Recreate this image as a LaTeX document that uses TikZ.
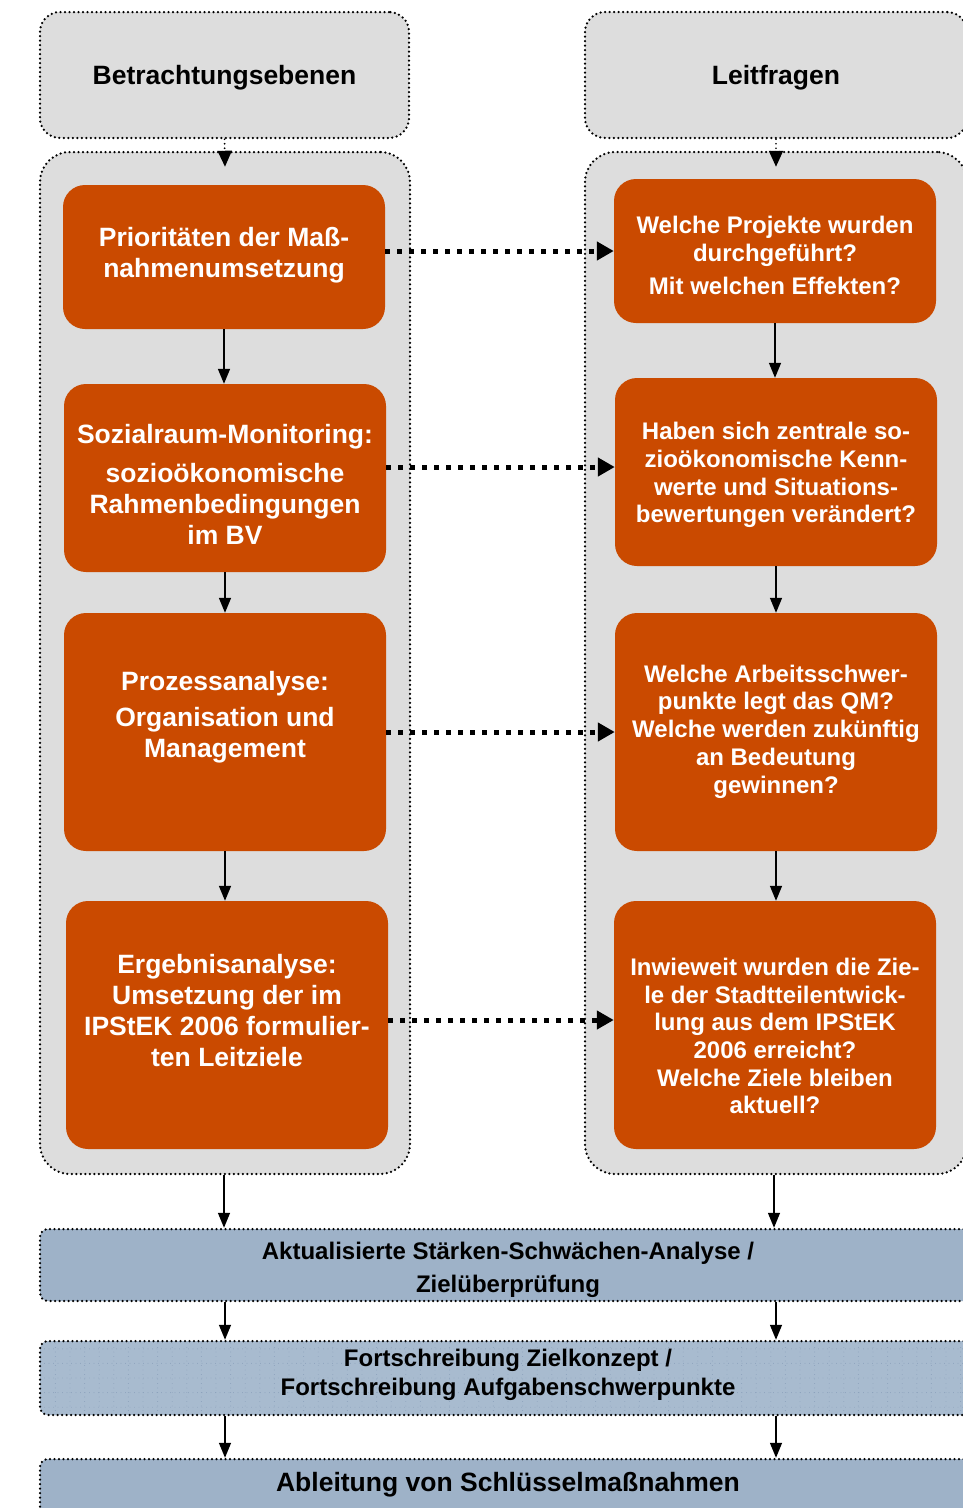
\documentclass[tikz,border=0pt]{standalone}
\usepackage{fontspec}
\setmainfont{Liberation Sans}
\usetikzlibrary{arrows.meta}

\definecolor{qmorange}{RGB}{202,74,0}
\definecolor{panelgray}{RGB}{221,221,221}
\definecolor{stepblue}{RGB}{158,178,200}
\definecolor{stepbluelight}{RGB}{168,187,207}
\definecolor{gridblue}{RGB}{140,162,188}

\begin{document}
\begin{tikzpicture}[x = 1pt, y = -1pt,
        dots/.style = {draw, line width = 2.5pt, dash pattern = on 0pt off 4.5pt, line cap = round},
        panel/.style = {dots, fill = panelgray, inner sep = 0pt},
        qbox/.style = {fill = qmorange, rounded corners = 22pt, inner sep = 0pt, minimum width = 322},
        qtext/.style = {text = white, inner sep = 0pt, align = center},
        ltext/.style = {qtext, font = \bfseries\fontsize{26.5}{31}\selectfont},
        rtext/.style = {qtext, font = \bfseries\fontsize{24}{27.7}\selectfont},
        stepbar/.style = {dots, rounded corners = 8pt, inner sep = 0pt, minimum width = 936},
        flow/.style = {line width = 1.5pt, -{Triangle[length = 15pt, width = 12pt]}},
        link/.style = {line width = 5pt, dash pattern = on 5pt off 7pt, -{Triangle[length = 17pt, width = 18pt]}}]
    % \draw[style = help lines, step = 100] (0,0) grid (963,1508);
    \clip (0,0) rectangle (963,1508);

    % headers and columns
    \node[panel, rounded corners = 20pt, minimum width = 369, minimum height = 126] (lh) at (224.5,75) {};
    \node[panel, rounded corners = 20pt, minimum width = 382, minimum height = 126] (rh) at (776,75) {};
    \node[font = \bfseries\fontsize{26.5}{31}\selectfont] (lht) at (224.5,78) {Betrachtungsebenen};
    \node[font = \bfseries\fontsize{26.5}{31}\selectfont] (rht) at (776,78) {Leitfragen};
    \node[panel, rounded corners = 30pt, minimum width = 370, minimum height = 1022] (lc) at (225,663) {};
    \node[panel, rounded corners = 30pt, minimum width = 382, minimum height = 1022] (rc) at (776,663) {};

    \draw[dots, line width = 1.9pt, -{Triangle[length = 16pt, width = 14pt]}]
        (lh.south) -- ([yshift = -16pt]lc.north);
    \draw[dots, line width = 1.9pt, -{Triangle[length = 16pt, width = 14pt]}]
        (rh.south) -- ([yshift = -16pt]rc.north);

    % left column
    \node[qbox, minimum height = 144] (l1) at (224,257) {};
    \node[qbox, minimum height = 188] (l2) at (225,478) {};
    \node[qbox, minimum height = 238] (l3) at (225,732) {};
    \node[qbox, minimum height = 248] (l4) at (227,1025) {};
    \node[ltext] (l1t) at (224,255) {Prioritäten der Maß-\\nahmenumsetzung};
    \node[ltext] (l2t) at (225,484) {Sozialraum-Monitoring:\\[8pt]sozioökonomische\\Rahmenbedingungen\\im BV};
    \node[ltext] (l3t) at (225,717) {Prozessanalyse:\\[5pt]Organisation und\\Management};
    \node[ltext] (l4t) at (227,1010.5) {Ergebnisanalyse:\\Umsetzung der im\\IPStEK 2006 formulier-\\ten Leitziele};

    % right column
    \node[qbox, minimum height = 144] (r1) at (775,251) {};
    \node[qbox, minimum height = 188] (r2) at (776,472) {};
    \node[qbox, minimum height = 238] (r3) at (776,732) {};
    \node[qbox, minimum height = 248] (r4) at (775,1025) {};
    \node[rtext] (r1t) at (775,255.5) {Welche Projekte wurden\\durchgeführt?\\[6pt]Mit welchen Effekten?};
    \node[rtext] (r2t) at (776,475) {Haben sich zentrale so-\\zioökonomische Kenn-\\werte und Situations-\\bewertungen verändert?};
    \node[rtext] (r3t) at (776,731.5) {Welche Arbeitsschwer-\\punkte legt das QM?\\Welche werden zukünftig\\an Bedeutung\\gewinnen?};
    \node[rtext] (r4t) at (775,1036) {Inwieweit wurden die Zie-\\le der Stadtteilentwick-\\lung aus dem IPStEK\\2006 erreicht?\\Welche Ziele bleiben\\aktuell?};

    \foreach \a/\b in {l1/l2, l2/l3, l3/l4, r1/r2, r2/r3, r3/r4}
        \draw[flow] (\a.south) -- (\a.south |- \b.north);
    \draw[link] (l1.east |- r1.west) -- (r1.west);
    \draw[link] ([yshift = 5pt]r2.west -| l2.east) -- ([yshift = 5pt]r2.west);
    \draw[link] (l3.east |- r3.west) -- (r3.west);
    \draw[link] ([yshift = 5pt]r4.west -| l4.east) -- ([yshift = 5pt]r4.west);

    % results
    \node[stepbar, fill = stepblue, minimum height = 72] (ab1) at (508,1265) {};
    \node[stepbar, fill = stepbluelight, minimum height = 74,
        path picture = {\draw[gridblue, line width = 0.9pt, step = 14.6pt]
            (path picture bounding box.south west) grid (path picture bounding box.north east);}] (ab2) at (508,1378) {};
    \node[stepbar, fill = stepblue, minimum height = 84] (ab3) at (508,1501) {};
    \node[align = center, font = \bfseries\fontsize{24}{33}\selectfont] (ab1t) at (508,1270)
        {Aktualisierte Stärken-Schwächen-Analyse /\\Zielüberprüfung};
    \node[align = center, font = \bfseries\fontsize{24}{29}\selectfont] (ab2t) at (508,1375)
        {Fortschreibung Zielkonzept /\\Fortschreibung Aufgabenschwerpunkte};
    \node[font = \bfseries\fontsize{26.5}{31}\selectfont] (ab3t) at (508,1485) {Ableitung von Schlüsselmaßnahmen};

    \draw[flow] ([xshift = -1pt]lc.south) -- ([xshift = -1pt]lc.south |- ab1.north);
    \draw[flow] ([xshift = -2pt]rc.south) -- ([xshift = -2pt]rc.south |- ab1.north);
    \foreach \a/\b in {ab1/ab2, ab2/ab3} {
        \draw[flow] (lc.south |- \a.south) -- (lc.south |- \b.north);
        \draw[flow] (rc.south |- \a.south) -- (rc.south |- \b.north);
    }
\end{tikzpicture}
\end{document}
